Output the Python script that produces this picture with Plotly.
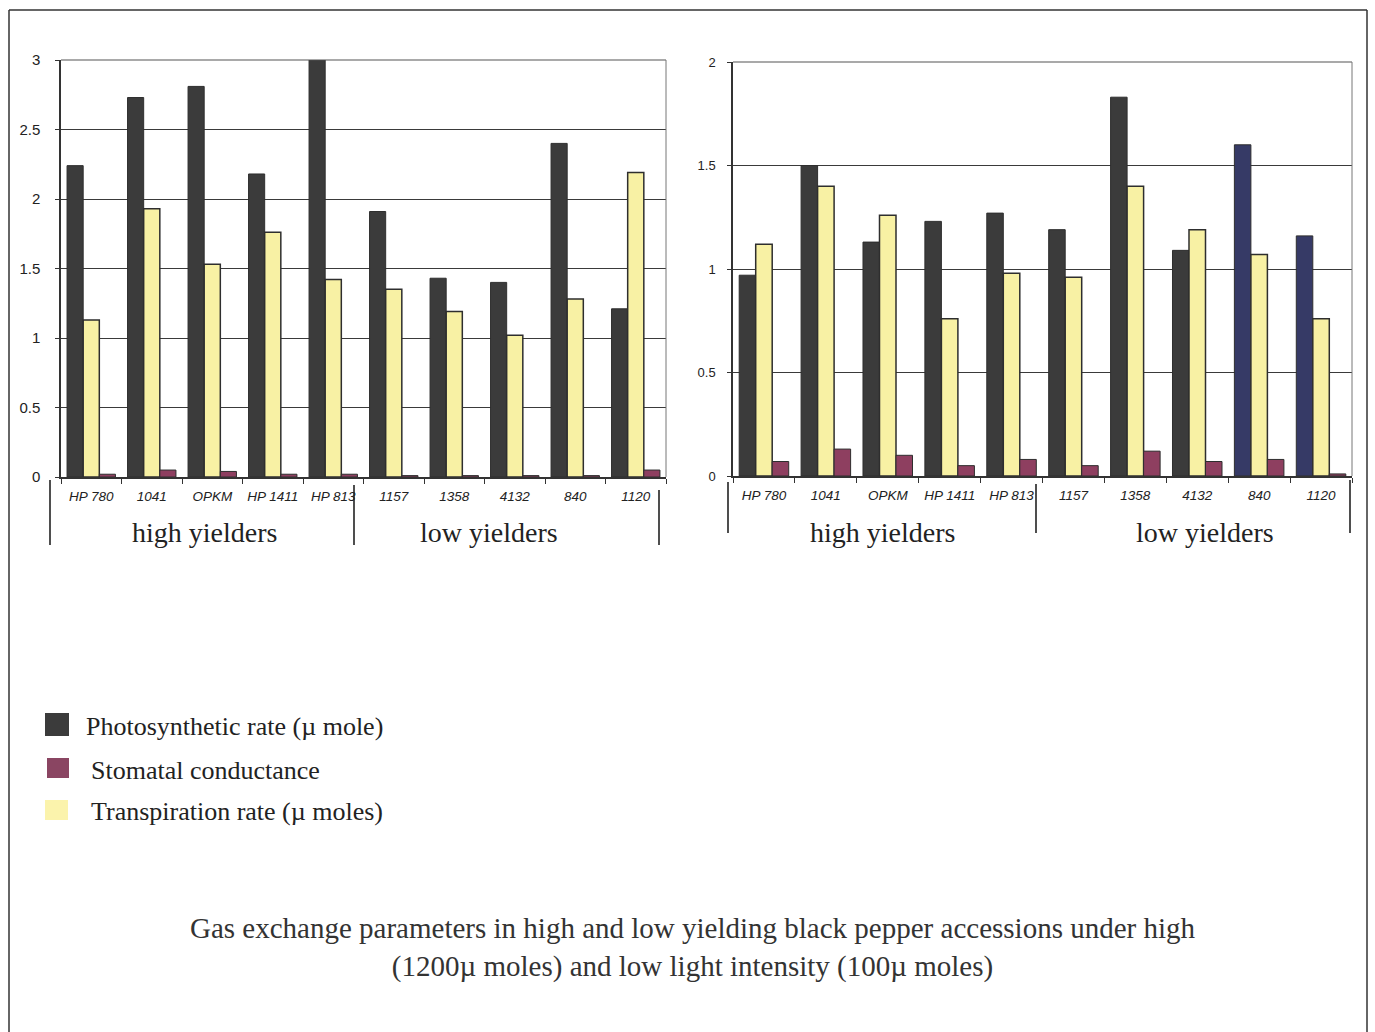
import plotly.graph_objects as go

# Accessions (first five: high yielders, last five: low yielders)
accessions = ["HP 780", "1041", "OPKM", "HP 1411", "HP 813",
              "1157", "1358", "4132", "840", "1120"]
group_names = ["high yielders", "low yielders"]

# High light intensity (1200 u moles)
photo_high = [2.24, 2.73, 2.81, 2.18, 3.0, 1.91, 1.43, 1.40, 2.40, 1.21]
stomatal_high = [0.02, 0.05, 0.04, 0.02, 0.02, 0.01, 0.01, 0.01, 0.01, 0.05]
transp_high = [1.13, 1.93, 1.53, 1.76, 1.42, 1.35, 1.19, 1.02, 1.28, 2.19]

# Low light intensity (100 u moles)
photo_low = [0.97, 1.50, 1.13, 1.23, 1.27, 1.19, 1.83, 1.09, 1.60, 1.16]
stomatal_low = [0.07, 0.13, 0.10, 0.05, 0.08, 0.05, 0.12, 0.07, 0.08, 0.01]
transp_low = [1.12, 1.40, 1.26, 0.76, 0.98, 0.96, 1.40, 1.19, 1.07, 0.76]

series_names = ["Photosynthetic rate (\u00b5 mole)",
                "Stomatal conductance",
                "Transpiration rate (\u00b5 moles)"]

DARK = "#3b3b3b"
NAVY = "#363a66"
MAROON = "#8e3f60"
YELLOW = "#f8f1a4"
EDGE = "#2e2e2e"
SERIF = "Liberation Serif, Times New Roman, serif"
SANS = "Liberation Sans, Arial, sans-serif"

fig = go.Figure()

# Low-light photosynthesis bars for the last two accessions are printed in navy
photo_low_colors = [DARK] * 8 + [NAVY, NAVY]

for xa, ya, photo, transp, stom, pcol in [
    ("x", "y", photo_high, transp_high, stomatal_high, DARK),
    ("x2", "y2", photo_low, transp_low, stomatal_low, photo_low_colors),
]:
    fig.add_trace(go.Bar(x=accessions, y=photo, name=series_names[0],
                         marker=dict(color=pcol, line=dict(color=EDGE, width=1)),
                         xaxis=xa, yaxis=ya, showlegend=False, cliponaxis=False))
    fig.add_trace(go.Bar(x=accessions, y=transp, name=series_names[2],
                         marker=dict(color=YELLOW, line=dict(color=EDGE, width=1.5)),
                         xaxis=xa, yaxis=ya, showlegend=False))
    fig.add_trace(go.Bar(x=accessions, y=stom, name=series_names[1],
                         marker=dict(color=MAROON, line=dict(color=EDGE, width=1)),
                         xaxis=xa, yaxis=ya, showlegend=False))

W, H = 1375, 1032


def px(x):
    return x / W


def py(y):
    return 1 - y / H


xaxis_common = dict(
    type="category", range=[-0.5, 9.5], tickangle=0,
    tickfont=dict(family=SANS, size=13.5, color="#222", style="italic"),
    ticks="outside", ticklen=5, tickcolor="#333", tickson="boundaries",
    ticklabelstandoff=6,
    showline=True, linecolor="#333", linewidth=1.5, showgrid=False,
    zeroline=False, fixedrange=True,
)
yaxis_common = dict(
    ticks="outside", ticklen=4, tickcolor="#333",
    showline=True, linecolor="#333", linewidth=1.5, showgrid=True,
    gridcolor="#3a3a3a", gridwidth=1.3, zeroline=False, fixedrange=True,
    dtick=0.5, tickformat="~g",
)

fig.update_layout(
    width=W, height=H,
    margin=dict(l=0, r=0, t=0, b=0, autoexpand=False),
    paper_bgcolor="white", plot_bgcolor="white",
    barmode="group", bargap=0.2, bargroupgap=0.0,
    xaxis=dict(domain=[px(61), px(666)], anchor="y", **xaxis_common),
    yaxis=dict(domain=[py(477), py(60)], anchor="x", range=[0, 3],
               tickfont=dict(family=SANS, size=15, color="#222"),
               ticklabelstandoff=12, **yaxis_common),
    xaxis2=dict(domain=[px(733), px(1352)], anchor="y2", **xaxis_common),
    yaxis2=dict(domain=[py(476), py(62)], anchor="x2", range=[0, 2],
                tickfont=dict(family=SANS, size=13, color="#222"),
                ticklabelstandoff=9, **yaxis_common),
)

shapes = []
annotations = []

# Plot-area frames (top and right edges)
for xa, ya in [("x", "y"), ("x2", "y2")]:
    shapes.append(dict(type="line", xref=f"{xa} domain", yref=f"{ya} domain",
                       x0=0, x1=1, y0=1, y1=1,
                       line=dict(color="#555", width=1.2)))
    shapes.append(dict(type="line", xref=f"{xa} domain", yref=f"{ya} domain",
                       x0=1, x1=1, y0=0, y1=1,
                       line=dict(color="#777", width=1)))

# Group brackets under each chart (page pixel positions)
brackets = [(50, 480, 545), (354, 485, 545), (659, 490, 545),
            (728, 482, 533), (1036, 484, 533), (1350, 480, 533)]
for bx, y0, y1 in brackets:
    shapes.append(dict(type="line", xref="paper", yref="paper",
                       x0=px(bx), x1=px(bx), y0=py(y0), y1=py(y1),
                       line=dict(color="#222", width=1.6)))

# Group labels, centred over their accessions
group_label_pos = [("x", 1.88, 6.57), ("x2", 1.91, 7.12)]
for xa, gx1, gx2 in group_label_pos:
    for gx, name in [(gx1, group_names[0]), (gx2, group_names[1])]:
        annotations.append(dict(xref=xa, yref="paper", x=gx, y=py(532),
                                text=name, showarrow=False,
                                font=dict(family=SERIF, size=28, color="#222")))

# Outer page frame
for x0, y0, x1, y1 in [(9, 10, 1367, 10), (9, 10, 9, 1032), (1367, 10, 1367, 1032)]:
    shapes.append(dict(type="line", xref="paper", yref="paper",
                       x0=px(x0), x1=px(x1), y0=py(y0), y1=py(y1),
                       line=dict(color="#333", width=1.5)))

# Legend drawn as colour swatches with serif labels
legend_items = [
    (series_names[0], DARK, 45, 713, 69, 736, 84, 726),
    (series_names[1], "#8a4562", 47, 758, 69, 778, 89, 770),
    (series_names[2], "#fbf3ac", 45, 800, 68, 820, 89, 811),
]
for label, col, x0, y0, x1, y1, tx, ty in legend_items:
    shapes.append(dict(type="rect", xref="paper", yref="paper",
                       x0=px(x0), x1=px(x1), y0=py(y1), y1=py(y0),
                       fillcolor=col, line=dict(width=0)))
    annotations.append(dict(xref="paper", yref="paper", x=px(tx), y=py(ty),
                            xanchor="left", yanchor="middle", text=label,
                            showarrow=False,
                            font=dict(family=SERIF, size=26, color="#222")))

# Caption
annotations.append(dict(
    xref="paper", yref="paper", x=px(693), y=py(947),
    xanchor="center", yanchor="middle", showarrow=False, align="center",
    text=("Gas exchange parameters in high and low yielding black pepper "
          "accessions under high<br>(1200\u00b5 moles) and low light intensity "
          "(100\u00b5 moles)"),
    font=dict(family=SERIF, size=29, color="#333"),
))

fig.update_layout(shapes=shapes, annotations=annotations)

fig.write_html("out.html")
